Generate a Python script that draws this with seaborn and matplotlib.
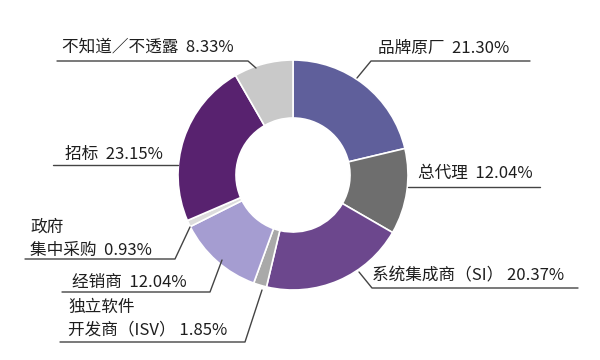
import matplotlib
matplotlib.use("Agg")
import matplotlib.pyplot as plt
import seaborn as sns

# data (clockwise from 12 o'clock)
channels = ['品牌原厂', '总代理', '系统集成商（SI）', '独立软件\n开发商（ISV）',
            '经销商', '政府\n集中采购', '招标', '不知道／不透露']
shares = [21.30, 12.04, 20.37, 1.85, 12.04, 0.93, 23.15, 8.33]
colors = ['#5f5f9b', '#6e6e6e', '#6c478d', '#a9a9a9',
          '#a59dd1', '#dcdcdc', '#58226f', '#c9c9c9']

sns.set_theme(style='white')
plt.rcParams['font.family'] = ['Noto Sans CJK SC', 'DejaVu Sans']

H = 360
def py(y):
    return H - y

# label layout in pixel coords: text x, text y (last line), underline x0, x1, y, ring point
layout = [
    (378, 48, 530, 371, 61, (357, 78)),
    (418, 173, 540, 408, 187, (408, 187)),
    (372, 276, 578, 372, 288, (359, 272)),
    (68, 330, 60, 245, 342, (262, 290)),
    (72, 282, 62, 210, 292, (222, 260)),
    (30, 250, 25, 175, 259, (190, 227)),
    (65, 154, 53, 178, 165, (178, 165)),
    (62, 47, 57, 248, 61, (256, 68)),
]

fig = plt.figure(figsize=(6, 3.6), dpi=100)
ax = fig.add_axes([0, 0, 1, 1])
ax.pie(shares, colors=colors, startangle=90, counterclock=False,
       center=(293, py(175)), radius=115,
       wedgeprops=dict(width=58, edgecolor='white', linewidth=1.2))
ax.set_xlim(0, 600)
ax.set_ylim(0, H)
ax.axis('off')

for name, val, (tx, ty, x0, x1, uy, pt) in zip(channels, shares, layout):
    lines = name.split('\n')
    gap = ' ' if lines[-1].endswith('）') else '  '
    label = lines[-1] + gap + f'{val:.2f}%'
    ax.text(tx, py(ty), label, fontsize=12, color='#1e1e1e', ha='left', va='center')
    if len(lines) > 1:
        ax.text(tx, py(ty - 23), lines[0], fontsize=12, color='#1e1e1e',
                ha='left', va='center')
    ax.plot([x0, x1, pt[0]], [py(uy), py(uy), py(pt[1])], color='#444444', lw=1)

fig.savefig('out.png', dpi=100)
